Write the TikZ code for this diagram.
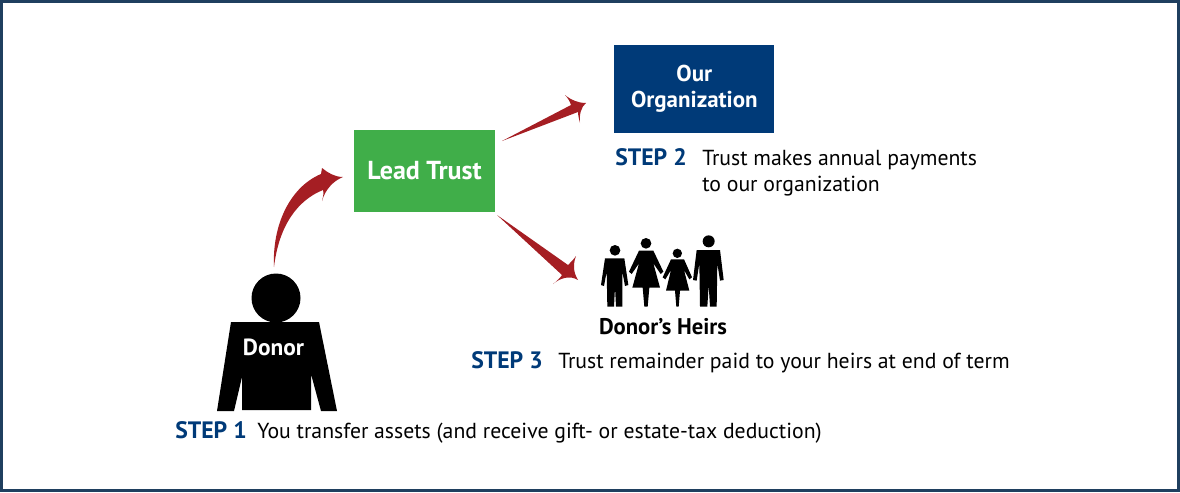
\documentclass[tikz,border=0pt]{standalone}
\usepackage{fontspec}
\setmainfont{PT Sans}
\definecolor{navy}{HTML}{003A78}
\definecolor{frame}{HTML}{1F3F5F}
\definecolor{leaf}{HTML}{40AE49}
\definecolor{wine}{HTML}{A51E23}
\tikzset{
  box/.style={inner sep=0pt,align=center,text=white,font=\fontsize{17.2}{19.5}\selectfont\bfseries},
  stepl/.style={inner sep=0pt,anchor=base west,text=navy,font=\fontsize{17.8}{18}\selectfont\bfseries},
  desc/.style={inner sep=0pt,anchor=base west,font=\fontsize{16.3}{19.5}\selectfont,align=left},
  lab/.style={inner sep=0pt,font=\fontsize{17}{18}\selectfont\bfseries},
  arrowfill/.style={fill=wine,draw=none},
  person/.style={fill=black,draw=none}
}
\begin{document}
\begin{tikzpicture}[x=0.75pt,y=-0.75pt]
\useasboundingbox (0,0) rectangle (1180,492);
\draw[frame,line width=2pt] (1.3,1.3) rectangle (1178.7,490.7);
\node[box,minimum width=106pt,minimum height=61.5pt,fill=leaf,font=\fontsize{19.5}{21}\selectfont\bfseries] (lead) at (424.5,171) {Lead Trust};
\node[box,minimum width=120pt,minimum height=66pt,fill=navy] (org) at (694.3,89) {Our\\Organization};
% donor
\fill[person] (276,298) circle (24.5);
\fill[person] (231,322) -- (319,322) -- (337,411) -- (321,411) -- (311,374) -- (311,410) -- (242,410) -- (242,377) -- (234,411) -- (217,411) -- cycle;
\node[inner sep=0pt,text=white,font=\fontsize{17.5}{18}\selectfont\bfseries] (donor) at (273.5,347.5) {Donor};
% arrows
\coordinate (a1s) at (274,267); \coordinate (a1t) at (343,177);
\fill[arrowfill] (a1s) .. controls (272,225) and (290,187) .. (321,174) .. controls (321,172) and (322,170) .. (322,168) .. controls (328,173) and (335,177) .. (a1t) .. controls (333,181) and (325,190) .. (322,201) .. controls (323,197) and (324,193) .. (323,190) .. controls (298,200) and (279,225) .. (a1s) -- cycle;
\coordinate (a2s) at (502,141); \coordinate (a2t) at (586,103);
\fill[arrowfill] (a2s) -- (571,105) .. controls (570,102) and (568,98) .. (565,95) .. controls (571,100) and (578,103) .. (a2t) .. controls (581,107) and (579,115) .. (580,123) .. controls (579,119) and (578,115) .. (578,112) -- cycle;
\coordinate (a3s) at (497,215); \coordinate (a3t) at (578,280);
\fill[arrowfill] (a3s) -- (568,265) .. controls (571,262) and (574,259) .. (576,256) .. controls (573,264) and (573,272) .. (a3t) .. controls (570,275) and (560,278) .. (553,284) .. controls (557,281) and (560,278) .. (562,275) -- cycle;
% heirs
\begin{scope}[shift={(490,200)},x=0.25pt,y=-0.25pt]
\fill[person] (375,151) circle (16);
\fill[person] (345,175) -- (403,175) -- (415,255) -- (405,258) -- (397,215) -- (397,320) -- (378,320) -- (375,262) -- (372,320) -- (352,320) -- (350,215) -- (342,258) -- (333,255) -- cycle;
\fill[person] (468,130) circle (16);
\fill[person] (447,152) -- (490,152) -- (520,215) -- (512,222) -- (490,190) -- (510,263) -- (478,263) -- (473,320) -- (463,320) -- (458,263) -- (427,263) -- (447,190) -- (425,222) -- (417,215) -- cycle;
\fill[person] (562,160) circle (14);
\fill[person] (543,178) -- (582,178) -- (606,232) -- (598,238) -- (582,210) -- (598,272) -- (570,272) -- (566,320) -- (559,320) -- (555,272) -- (528,272) -- (543,210) -- (526,238) -- (518,232) -- cycle;
\fill[person] (656,124) circle (18);
\fill[person] (620,150) -- (690,150) -- (701,240) -- (690,242) -- (682,190) -- (680,320) -- (660,320) -- (656,255) -- (652,320) -- (630,320) -- (628,190) -- (620,242) -- (609,240) -- cycle;
\end{scope}
\node[lab] (heirs) at (663,327) {Donor’s Heirs};
% steps
\node[stepl] (s1) at (175,438) {STEP 1};
\node[desc] (d1) at (257,438) {You transfer assets (and receive gift- or estate-tax deduction)};
\node[stepl] (s2) at (615,165) {STEP 2};
\node[desc] (d2) at (702,191) {Trust makes annual payments\\to our organization};
\node[stepl] (s3) at (471,368) {STEP 3};
\node[desc] (d3) at (558,368) {Trust remainder paid to your heirs at end of term};
\end{tikzpicture}
\end{document}
